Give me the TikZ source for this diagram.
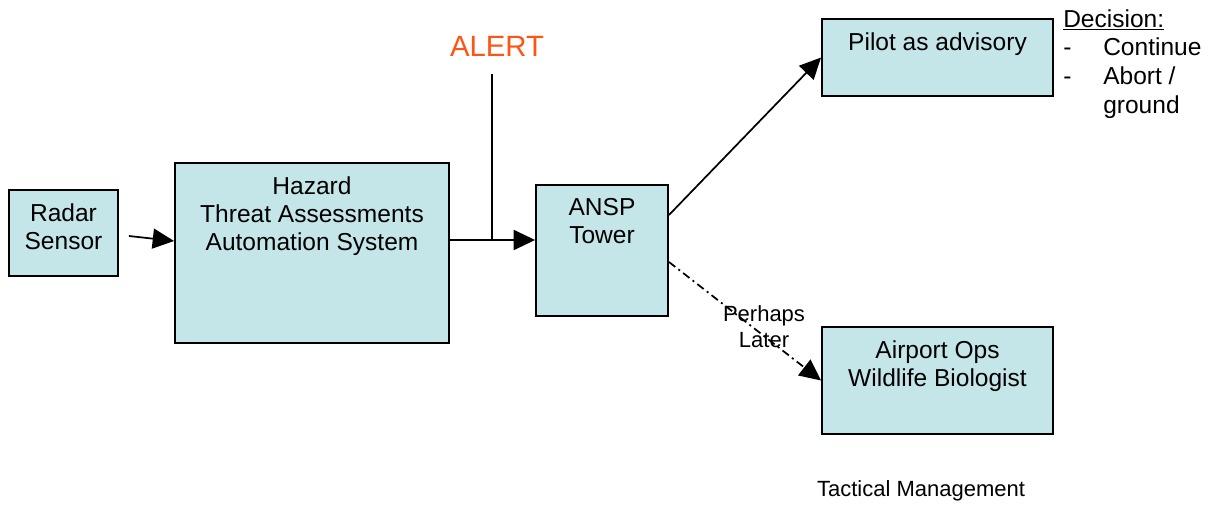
\documentclass[tikz,border=0pt]{standalone}
\usepackage{fontspec}
\setmainfont{Liberation Sans}
\usetikzlibrary{arrows.meta}
\definecolor{boxfill}{RGB}{197,230,232}
\definecolor{alertred}{RGB}{255,85,20}

\begin{document}
\begin{tikzpicture}[x=0.75pt,y=-0.75pt]
%stylesofnodes
\tikzstyle{box}=[rectangle,draw,line width=1.4pt,fill=boxfill,inner sep=0pt]
\tikzstyle{txt}=[anchor=north,align=center,inner sep=0pt,yshift=-10.5pt,
font=\fontsize{18.4}{21}\selectfont]
\tikzstyle{small}=[align=center,inner sep=0pt,font=\fontsize{16.5}{19}\selectfont]
%stylesofarrows
\tikzstyle{flow}=[-{Triangle[length=16pt,width=15pt]},line width=1.3pt]
\useasboundingbox (0,0) rectangle (1212,506);
%boxes
\node[box,minimum width=81.75pt,minimum height=64.5pt] (radar) at (63.5,233) {};
\node[box,minimum width=205.5pt,minimum height=135pt] (hazard) at (312,253) {};
\node[box,minimum width=99pt,minimum height=98.25pt] (tower) at (602,250.5) {};
\node[box,minimum width=173.25pt,minimum height=57.75pt] (pilot) at (937.5,57.5) {};
\node[box,minimum width=173.25pt,minimum height=80.25pt] (ops) at (937.5,380.5) {};
%textsinboxes
\node[txt] (radartxt) at (radar.north) {Radar\\Sensor};
\node[txt] (hazardtxt) at (hazard.north) {Hazard\\Threat Assessments\\Automation System};
\node[txt] (towertxt) at (tower.north) {ANSP\\Tower};
\node[txt] (pilottxt) at (pilot.north) {Pilot as advisory};
\node[txt] (opstxt) at (ops.north) {Airport Ops\\Wildlife Biologist};
%othertexts
\node[font=\fontsize{22}{26}\selectfont,text=alertred,inner sep=0pt] (alert) at (497,46) {ALERT};
\node[anchor=north west,align=left,inner sep=0pt,font=\fontsize{18.4}{21.5}\selectfont]
(decision) at (1063,9) {\underline{Decision:}\\\makebox[30pt][l]{-}Continue\\
\makebox[30pt][l]{-}Abort /\\\makebox[30pt][l]{}ground};
\node[small] (tactical) at (921,491) {Tactical Management};
\coordinate (alerttop) at (492,74);
\coordinate (join) at (492,240);
%arrows
\draw[flow] ([shift={(10,3)}]radar.east) -- ([yshift=9pt]hazard.west);
\draw[flow] (hazard.east |- join) -- (tower.west |- join);
\draw[line width=1.3pt] (alerttop) -- (join);
\draw[flow] ([yshift=26.6pt]tower.east) -- (pilot.west);
\draw[flow,dash pattern=on 6pt off 3pt on 1.5pt off 3pt] ([yshift=-8.6pt]tower.east) -- (ops.west);
\node[small] (later) at (764,326.5) {Perhaps\\Later};
\end{tikzpicture}
\end{document}
